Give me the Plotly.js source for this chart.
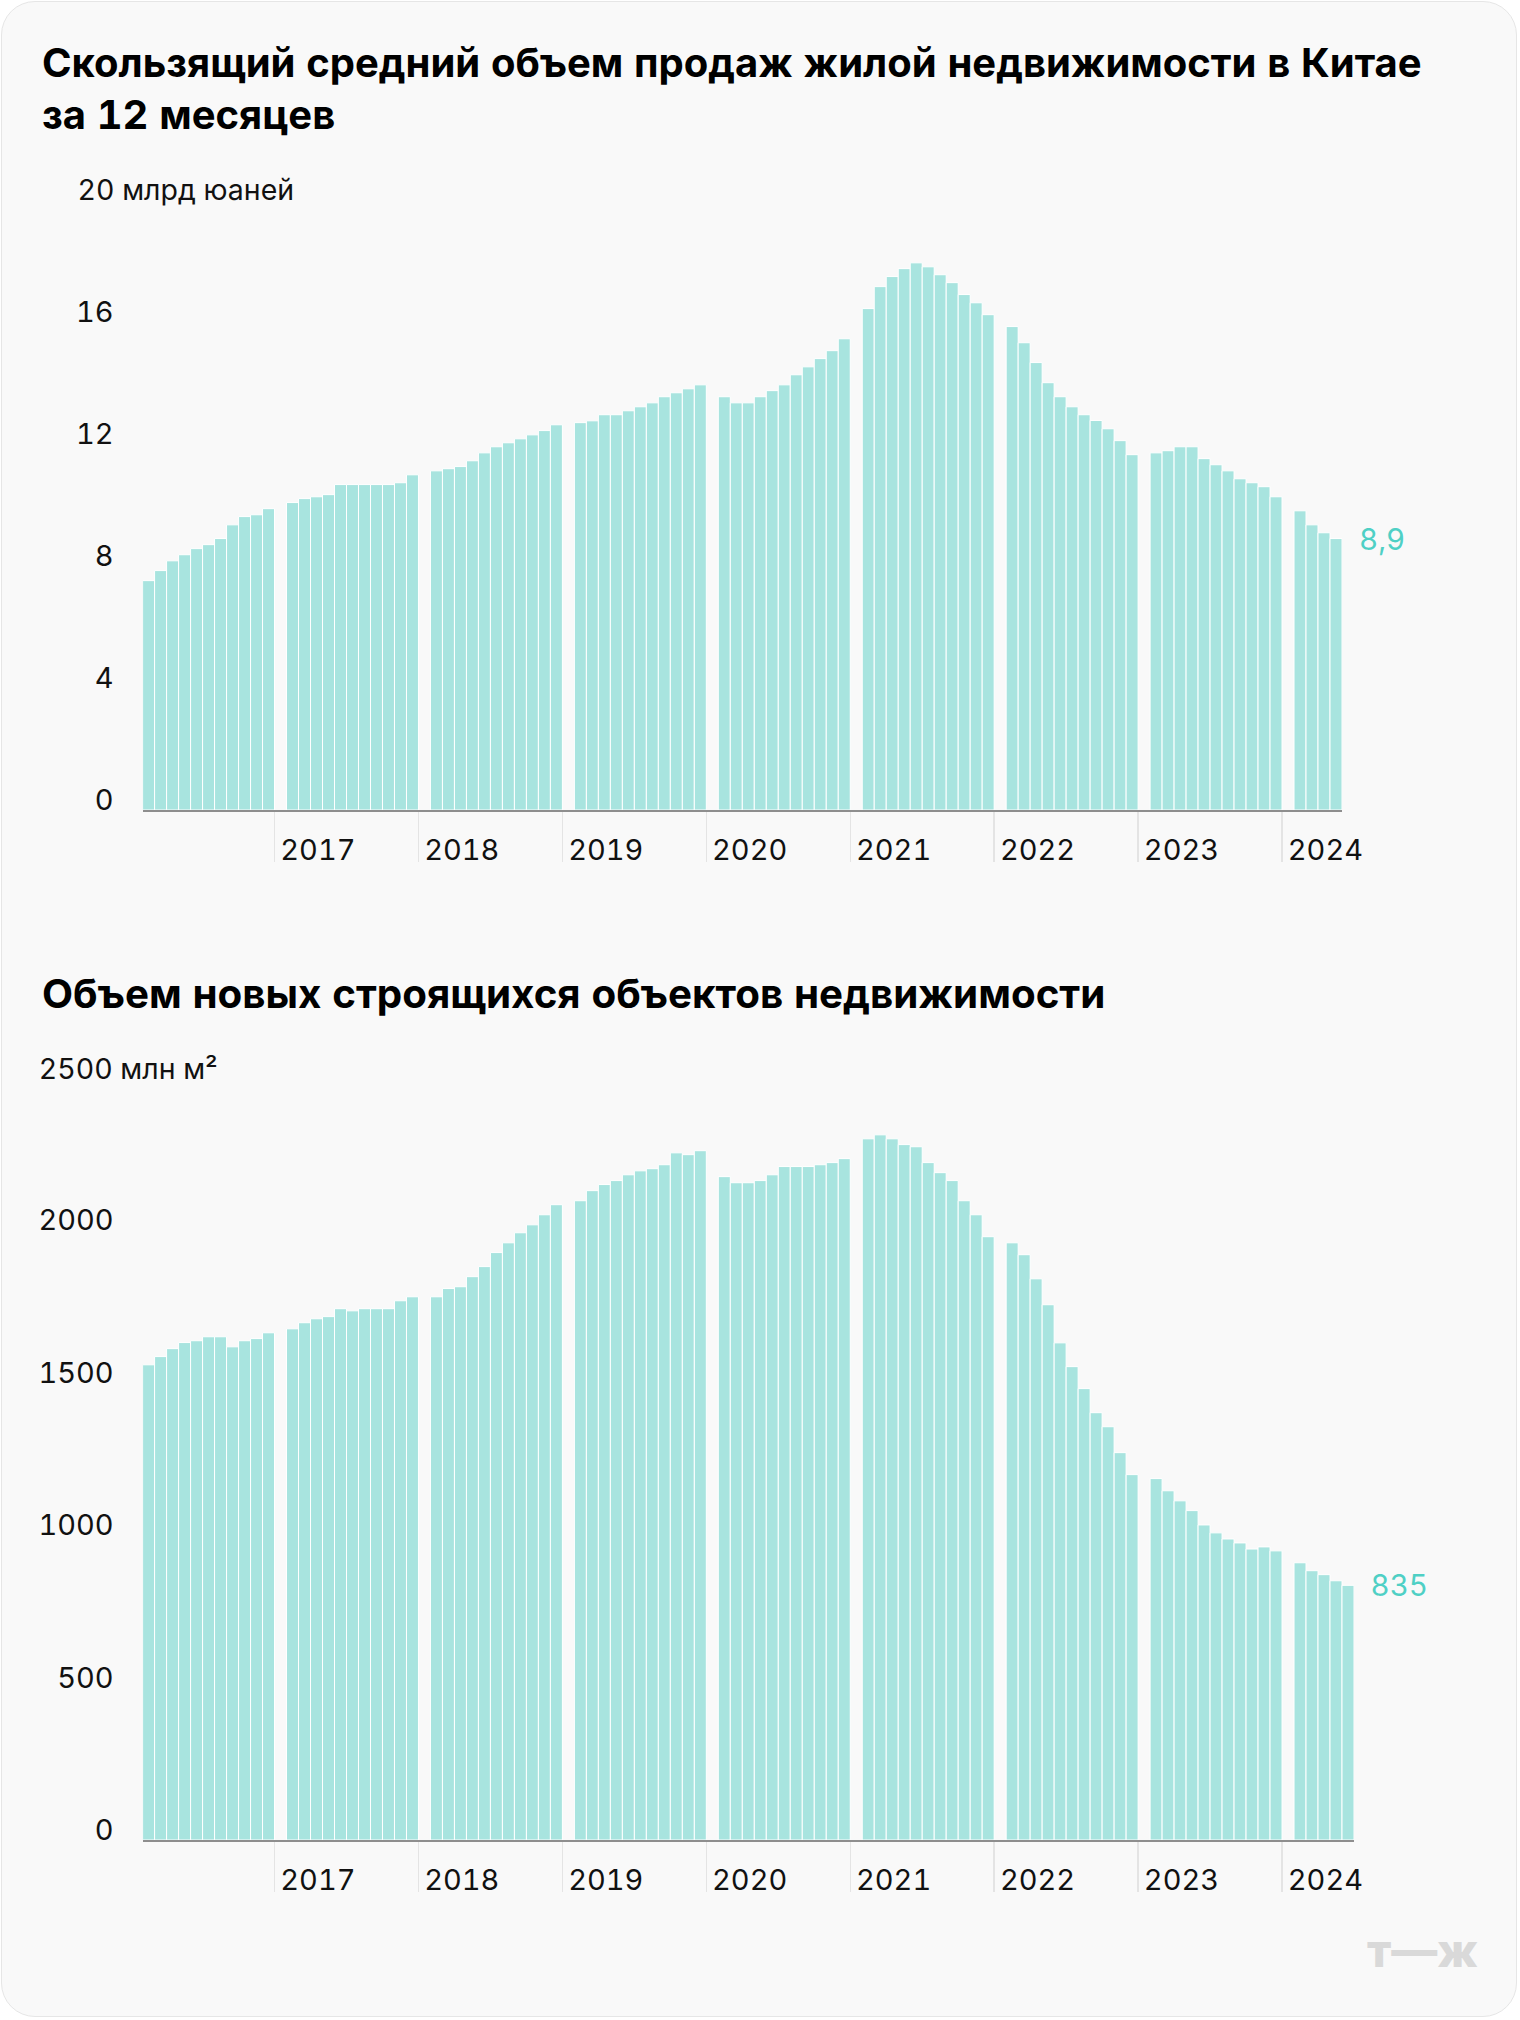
<!DOCTYPE html>
<html>
<head>
<meta charset="utf-8">
<script src="https://cdn.plot.ly/plotly-3.0.1.min.js"></script>
<style>
  html, body { margin: 0; padding: 0; background: #ffffff; }
  #card { position: absolute; left: 1px; top: 1px; width: 1516px; height: 2016px; box-sizing: border-box;
          border: 1.5px solid #e6e6e6; border-radius: 34px; background: #f9f9f9; }
  #chart { position: absolute; left: 0; top: 0; width: 1520px; height: 2020px; }
  #chart text { font-feature-settings: "tnum" 1; }
</style>
</head>
<body>
<div id="card"></div>
<div id="chart"></div>
<script>
// ---- Data (monthly; China reports Jan+Feb together, so January is empty) ----
const firstYear = 2016;
const firstMonth = 2; // series starts in February 2016

// 12-month rolling residential sales (as labelled: «млрд юаней»)
const sales = [
  7.52, 7.85, 8.17, 8.37, 8.57, 8.70, 8.90, 9.35, 9.62, 9.68, 9.88,               // 2016 Feb–Dec
  null, 10.08, 10.21, 10.27, 10.34, 10.67, 10.67, 10.67, 10.67, 10.67, 10.73, 10.99, // 2017
  null, 11.12, 11.19, 11.26, 11.45, 11.71, 11.91, 12.04, 12.17, 12.30, 12.44, 12.63, // 2018
  null, 12.70, 12.76, 12.96, 12.96, 13.09, 13.22, 13.35, 13.55, 13.68, 13.81, 13.94, // 2019
  null, 13.55, 13.35, 13.35, 13.55, 13.75, 13.94, 14.27, 14.53, 14.80, 15.06, 15.45, // 2020
  null, 16.44, 17.16, 17.49, 17.75, 17.94, 17.81, 17.55, 17.29, 16.90, 16.63, 16.24, // 2021
  null, 15.85, 15.32, 14.67, 14.01, 13.55, 13.22, 12.96, 12.77, 12.50, 12.11, 11.65, // 2022
  null, 11.71, 11.78, 11.91, 11.91, 11.52, 11.32, 11.12, 10.86, 10.73, 10.60, 10.27, // 2023
  null, 9.81, 9.35, 9.09, 8.9                                                       // 2024
];

// New construction starts, млн м²
const starts = [
  1558, 1585, 1611, 1631, 1637, 1650, 1650, 1617, 1637, 1644, 1663,               // 2016 Feb–Dec
  null, 1676, 1696, 1709, 1716, 1742, 1735, 1742, 1742, 1742, 1768, 1781,         // 2017
  null, 1781, 1808, 1814, 1847, 1880, 1926, 1958, 1991, 2017, 2050, 2083,         // 2018
  null, 2096, 2129, 2149, 2162, 2181, 2194, 2201, 2214, 2253, 2247, 2260,         // 2019
  null, 2175, 2155, 2155, 2162, 2181, 2208, 2208, 2208, 2214, 2221, 2234,         // 2020
  null, 2299, 2312, 2299, 2280, 2273, 2221, 2188, 2162, 2096, 2050, 1978,         // 2021
  null, 1958, 1919, 1840, 1755, 1630, 1552, 1480, 1401, 1355, 1270, 1198,         // 2022
  null, 1185, 1145, 1112, 1080, 1033, 1007, 987, 974, 954, 961, 948,              // 2023
  null, 909, 883, 870, 850, 835                                                   // 2024
];

const yearLabels = ['2017', '2018', '2019', '2020', '2021', '2022', '2023', '2024'];
const salesTicks = [0, 4, 8, 12, 16];
const salesTopTick = 20;
const salesUnit = '20 млрд юаней';
const startsTicks = [0, 500, 1000, 1500, 2000];
const startsTopTick = 2500;
const startsUnit = '2500 млн м²';

const title1 = 'Скользящий средний объем продаж жилой недвижимости в Китае<br>за 12 месяцев';
const title2 = 'Объем новых строящихся объектов недвижимости';

// ---- helpers ----
const W = 1520, H = 2020;
const px = p => p / W;
const py = p => (H - p) / H;

const slots = n => Array.from({length: n}, (_, i) => i);
// year boundaries: left edge of each January slot
const yearTickVals = yearLabels.map(y => (Number(y) - firstYear) * 12 - (firstMonth - 1) - 0.5);

const BAR = '#a8e4df';
const ACCENT = '#4fd0c5';
const FONT = 'Inter, Roboto, "Noto Sans", sans-serif';
const tickFont = {family: FONT, size: 29, color: '#111111'};

const fmt = v => String(v).replace('.', ',');

const traces = [
  {type: 'bar', x: slots(sales.length), y: sales, xaxis: 'x', yaxis: 'y',
   marker: {color: BAR, line: {color: '#ffffff', width: 1}}, hoverinfo: 'skip'},
  {type: 'bar', x: slots(starts.length), y: starts, xaxis: 'x2', yaxis: 'y2',
   marker: {color: BAR, line: {color: '#ffffff', width: 1}}, hoverinfo: 'skip'}
];

const xCommon = {
  tickmode: 'array', tickvals: yearTickVals, ticktext: yearLabels,
  ticks: 'outside', ticklen: 50, tickwidth: 1.5, tickcolor: '#e4e4e4',
  ticklabelposition: 'outside right', ticklabelstandoff: 13, ticklabelshift: 4,
  showline: true, linecolor: '#8e8e8e', linewidth: 2,
  showgrid: false, zeroline: false, tickfont: tickFont, fixedrange: true
};
const yCommon = {
  tickmode: 'array', showgrid: false, zeroline: false, showline: false,
  ticks: '', ticklabelstandoff: 28, ticklabelshift: -10, tickfont: tickFont, fixedrange: true
};

const layout = {
  width: W, height: H,
  margin: {l: 0, r: 0, t: 0, b: 0},
  paper_bgcolor: 'rgba(0,0,0,0)', plot_bgcolor: 'rgba(0,0,0,0)',
  showlegend: false, bargap: 0,
  font: {family: FONT},
  xaxis: Object.assign({}, xCommon, {domain: [px(142.6), px(1342)], range: [-0.5, sales.length - 0.5], anchor: 'y'}),
  yaxis: Object.assign({}, yCommon, {domain: [py(810), py(200)], range: [0, salesTopTick], tickvals: salesTicks, anchor: 'x'}),
  xaxis2: Object.assign({}, xCommon, {domain: [px(142.6), px(1354)], range: [-0.5, starts.length - 0.5], anchor: 'y2'}),
  yaxis2: Object.assign({}, yCommon, {domain: [py(1840), py(1077.5)], range: [0, startsTopTick], tickvals: startsTicks, anchor: 'x2'}),
  annotations: [
    {xref: 'paper', yref: 'paper', x: px(40), y: py(88), xanchor: 'left', yanchor: 'middle', align: 'left',
     text: title1, showarrow: false, font: {family: FONT, size: 40, weight: 700, color: '#000000'}},
    {xref: 'paper', yref: 'paper', x: px(40), y: py(993), xanchor: 'left', yanchor: 'middle', align: 'left',
     text: title2, showarrow: false, font: {family: FONT, size: 40.3, weight: 700, color: '#000000'}},
    {xref: 'paper', yref: 'y', x: px(76), y: salesTopTick, yshift: 10, xanchor: 'left', yanchor: 'middle',
     text: salesUnit, showarrow: false, font: {family: FONT, size: 28.5, color: '#111111'}},
    {xref: 'paper', yref: 'y2', x: px(38), y: startsTopTick, yshift: 9, xanchor: 'left', yanchor: 'middle',
     text: startsUnit, showarrow: false, font: {family: FONT, size: 28.5, color: '#111111'}},
    {xref: 'x', yref: 'y', x: sales.length - 1, y: sales[sales.length - 1], xanchor: 'left', yanchor: 'middle',
     xshift: 22, text: fmt(sales[sales.length - 1]), showarrow: false, font: {family: FONT, size: 29.5, color: ACCENT}},
    {xref: 'x2', yref: 'y2', x: starts.length - 1, y: starts[starts.length - 1], xanchor: 'left', yanchor: 'middle',
     xshift: 22, text: fmt(starts[starts.length - 1]), showarrow: false, font: {family: FONT, size: 29.5, color: ACCENT}},
    {xref: 'paper', yref: 'paper', x: px(1480), y: py(1950), xanchor: 'right', yanchor: 'middle',
     text: 'т—ж', showarrow: false, font: {family: FONT, size: 46, weight: 800, color: '#d9d9d9'}}
  ]
};

Plotly.newPlot('chart', traces, layout, {staticPlot: true, displayModeBar: false});
</script>
</body>
</html>
